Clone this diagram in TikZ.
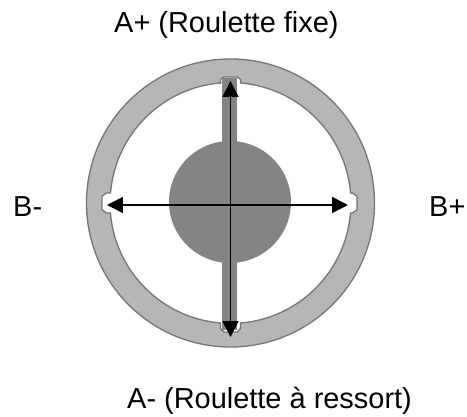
\documentclass[tikz,border=0pt]{standalone}
\usepackage{fontspec}
\setmainfont{Liberation Sans}
\usepackage{xcolor}
\usetikzlibrary{positioning,arrows.meta}
\definecolor{ringfill}{HTML}{B6B6B6}
\definecolor{ringedge}{HTML}{777777}
\definecolor{hubfill}{HTML}{848484}
\tikzset{
  axislabel/.style={font=\fontsize{24.7}{28}\selectfont,inner sep=0pt,anchor=base west},
  axisline/.style={line width=0.05cm,{Triangle[length=0.48cm,width=0.48cm]}-{Triangle[length=0.48cm,width=0.48cm]}},
}
\begin{document}
\begin{tikzpicture}
  \useasboundingbox (-6.915,-6.42) rectangle (7.095,6.09);
  % ring with its four notches
  \draw[ringedge,line width=0.04cm,fill=ringfill,even odd rule] (0,0) circle (4.32)
    (-0.3,3.6) -- (-0.3,3.71) -- (-0.2,3.78) -- (0.2,3.78) -- (0.3,3.71) -- (0.3,3.6)
    arc[start angle=85.24,end angle=4.76,radius=3.615]
    -- (3.66,0.3) -- (3.795,0.2) -- (3.795,-0.2) -- (3.66,-0.3) -- (3.6,-0.3)
    arc[start angle=-4.76,end angle=-85.24,radius=3.615]
    -- (0.3,-3.77) -- (0.2,-3.87) -- (-0.2,-3.87) -- (-0.3,-3.77) -- (-0.3,-3.6)
    arc[start angle=-94.76,end angle=-175.24,radius=3.615]
    -- (-3.72,-0.3) -- (-3.855,-0.2) -- (-3.855,0.2) -- (-3.72,0.3) -- (-3.6,0.3)
    arc[start angle=175.24,end angle=94.76,radius=3.615] -- cycle;
  % hub and shaft
  \fill[hubfill] (-0.015,0.03) circle (1.83);
  \fill[hubfill] (-0.246,-3.81) rectangle (0.195,3.75);
  % axes
  \coordinate (top) at (0,3.66);
  \coordinate (bottom) at (0,-4.02);
  \coordinate (left) at (-3.705,-0.06);
  \coordinate (right) at (3.525,-0.06);
  \draw[axisline] (bottom) -- (top);
  \draw[axisline] (left) -- (right);
  \node[axislabel] (aplus) at (-3.495,5.1) {A+ (Roulette fixe)};
  \node[axislabel] (aminus) at (-3.105,-6.171) {A- (Roulette à ressort)};
  \node[axislabel] (bminus) at (-6.525,-0.42) {B-};
  \node[axislabel] (bplus) at (5.955,-0.42) {B+};
\end{tikzpicture}
\end{document}
